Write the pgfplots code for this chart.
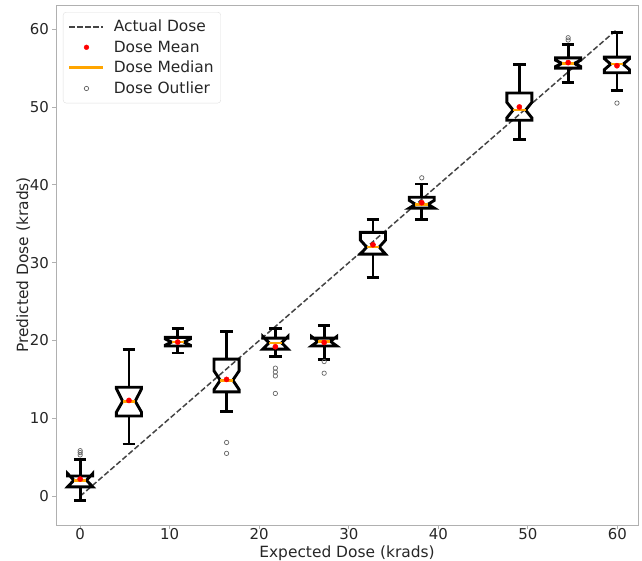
\documentclass[border=0pt]{standalone}
\usepackage{fontspec}
\setmainfont{DejaVu Sans}
\usepackage{pgfplots}
\pgfplotsset{compat=1.18}
\definecolor{medorange}{HTML}{FFA500}
\definecolor{dashgray}{HTML}{444444}
\definecolor{framegray}{HTML}{B0B0B0}
\definecolor{txt}{HTML}{262626}
\tikzset{
  boxline/.style={black, line width=2.9bp, line join=miter, line cap=butt},
}
% x, whisker low, q1, notch low, median, notch high, q3, whisker high, mean
\newcommand{\nbox}[9]{%
  \pgfmathsetmacro{\bxl}{#1-1.4}\pgfmathsetmacro{\bxr}{#1+1.4}%
  \pgfmathsetmacro{\bnl}{#1-0.7}\pgfmathsetmacro{\bnr}{#1+0.7}%
  \addplot[boxline, forget plot] coordinates {(\bxl,#3) (\bxr,#3) (\bxr,#4) (\bnr,#5) (\bxr,#6) (\bxr,#7) (\bxl,#7) (\bxl,#6) (\bnl,#5) (\bxl,#4)} -- cycle;
  \addplot[boxline, forget plot] coordinates {(#1,#7) (#1,#8)};
  \addplot[boxline, forget plot] coordinates {(#1,#3) (#1,#2)};
  \addplot[boxline, forget plot] coordinates {(\bnl,#8) (\bnr,#8)};
  \addplot[boxline, forget plot] coordinates {(\bnl,#2) (\bnr,#2)};
  \addplot[medorange, line width=2.6bp, forget plot] coordinates {(\bnl,#5) (\bnr,#5)};
  \addplot[only marks, mark=*, mark size=2.6bp, red, forget plot] coordinates {(#1,#9)};
}
\begin{document}
\begin{tikzpicture}
\path[use as bounding box] (-56bp,-36bp) rectangle (586bp,525bp);
\begin{axis}[
  scale only axis,
  width=582bp, height=520bp,
  xmin=-2.7, xmax=62.3,
  ymin=-3.7, ymax=63.1,
  xtick={0,10,...,60}, ytick={0,10,...,60},
  axis line style={framegray, line width=0.9bp},
  tick style={framegray, line width=0.8bp},
  tick align=outside, tick pos=left,
  major tick length=3.5bp,
  /pgf/number format/assume math mode=true,
  tick label style={font=\fontsize{15}{18}\selectfont, text=txt},
  xticklabel style={inner ysep=0bp, yshift=0.5bp},
  label style={font=\fontsize{15.5}{18}\selectfont, text=txt},
  xlabel={Expected Dose (krads)},
  ylabel={Predicted Dose (krads)},
  xlabel style={at={(axis description cs:0.5,0)}, anchor=base, yshift=-32bp, inner sep=0bp},
  ylabel style={yshift=-7bp},
  legend style={at={(0.012,0.9865)}, anchor=north west, draw=gray!25, rounded corners=3bp,
    font=\fontsize{15.5}{18}\selectfont, text=txt, row sep=3.5bp, inner xsep=5bp, inner ysep=6bp,
    /tikz/every odd column/.append style={column sep=7bp}},
  legend cell align=left,
]
\addlegendimage{legend image code/.code={\draw[dashgray, line width=1.5bp, dash pattern=on 5.5bp off 2.5bp] (0bp,0bp) -- (34bp,0bp);}}
\addlegendentry{Actual Dose}
\addlegendimage{legend image code/.code={\fill[red] (17bp,0bp) circle (2.4bp);}}
\addlegendentry{Dose Mean}
\addlegendimage{legend image code/.code={\draw[medorange, line width=2.6bp] (0bp,0bp) -- (34bp,0bp);}}
\addlegendentry{Dose Median}
\addlegendimage{legend image code/.code={\draw[gray!80!black, line width=0.7bp] (17bp,0bp) circle (2.2bp);}}
\addlegendentry{Dose Outlier}

\addplot[dashgray, line width=1.5bp, dash pattern=on 5.5bp off 2.5bp, forget plot] coordinates {(0,0) (60,60)};

\nbox{0}{-0.6}{1.2}{1.2}{2.05}{2.9}{2.6}{4.75}{2.2}
\nbox{5.45}{6.7}{10.3}{10.8}{12.2}{13.8}{14.0}{18.8}{12.3}
\nbox{10.9}{18.4}{19.3}{19.4}{19.8}{20.2}{20.4}{21.5}{19.8}
\nbox{16.35}{10.9}{13.4}{13.7}{14.9}{16.1}{17.6}{21.2}{15.0}
\nbox{21.8}{18.0}{18.9}{18.9}{19.7}{20.5}{20.3}{21.6}{19.2}
\nbox{27.25}{17.6}{19.3}{19.3}{19.9}{20.5}{20.3}{21.9}{19.75}
\nbox{32.7}{28.1}{31.1}{31.1}{32.0}{32.9}{33.9}{35.6}{32.3}
\nbox{38.15}{35.5}{37.0}{37.0}{37.5}{38.0}{38.4}{40.1}{37.7}
\nbox{49.05}{45.8}{48.3}{48.6}{49.6}{50.6}{51.8}{55.5}{50.0}
\nbox{54.5}{53.2}{55.0}{55.2}{55.6}{56.0}{56.3}{58.0}{55.7}
\nbox{59.95}{52.1}{54.4}{54.8}{55.5}{56.2}{56.4}{59.6}{55.3}

\addplot[only marks, mark=o, mark size=2.2bp, gray!80!black, mark options={line width=0.7bp}, forget plot] coordinates {
 (0,5.3) (0,5.6) (0,5.85)
 (16.35,6.9) (16.35,5.5)
 (21.8,16.45) (21.8,15.95) (21.8,15.45) (21.8,13.2)
 (27.25,17.3) (27.25,15.8)
 (38.15,40.9)
 (54.5,58.6) (54.5,58.9)
 (59.95,50.5)
};
\end{axis}
\end{tikzpicture}
\end{document}
